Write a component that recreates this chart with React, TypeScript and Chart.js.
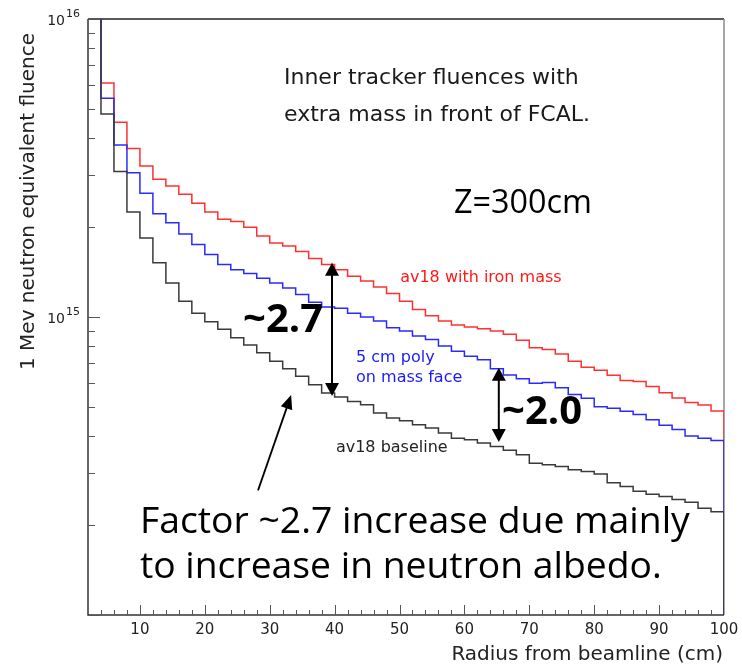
import React, { useEffect, useRef } from "react";
import { Chart, registerables } from "chart.js";

Chart.register(...registerables);

// ---- data ----
const binLeftEdges = [2, 4, 6, 8, 10, 12, 14, 16, 18, 20, 22, 24, 26, 28, 30, 32, 34, 36, 38, 40, 42, 44, 46, 48, 50, 52, 54, 56, 58, 60, 62, 64, 66, 68, 70, 72, 74, 76, 78, 80, 82, 84, 86, 88, 90, 92, 94, 96, 98];
const histEnd = 100;
const emptyBeyond = 1e13;

const ironMass = [1.2e16, 6.10e15, 4.50e15, 3.68e15, 3.21e15, 2.90e15, 2.75e15, 2.58e15, 2.41e15, 2.25e15, 2.13e15, 2.09e15, 2.00e15, 1.87e15, 1.77e15, 1.73e15, 1.66e15, 1.57e15, 1.50e15, 1.44e15, 1.37e15, 1.32e15, 1.26e15, 1.20e15, 1.13e15, 1.06e15, 1.01e15, 9.69e14, 9.40e14, 9.25e14, 9.13e14, 8.97e14, 8.75e14, 8.35e14, 7.88e14, 7.78e14, 7.51e14, 7.11e14, 6.78e14, 6.63e14, 6.38e14, 6.12e14, 6.07e14, 5.85e14, 5.57e14, 5.35e14, 5.17e14, 5.07e14, 4.84e14];
const polyFace = [1.2e16, 5.42e15, 3.78e15, 3.05e15, 2.60e15, 2.22e15, 2.07e15, 1.90e15, 1.75e15, 1.62e15, 1.50e15, 1.44e15, 1.40e15, 1.35e15, 1.30e15, 1.25e15, 1.19e15, 1.12e15, 1.08e15, 1.07e15, 1.03e15, 1.00e15, 9.69e14, 9.20e14, 8.97e14, 8.63e14, 8.41e14, 7.99e14, 7.68e14, 7.39e14, 7.18e14, 6.71e14, 6.39e14, 6.21e14, 5.99e14, 6.03e14, 5.79e14, 5.49e14, 5.34e14, 5.00e14, 4.94e14, 4.83e14, 4.71e14, 4.52e14, 4.33e14, 4.19e14, 3.99e14, 3.92e14, 3.85e14];
const baseline = [1.2e16, 4.80e15, 3.08e15, 2.25e15, 1.84e15, 1.52e15, 1.30e15, 1.13e15, 1.03e15, 9.64e14, 9.09e14, 8.52e14, 8.05e14, 7.58e14, 7.11e14, 6.70e14, 6.33e14, 5.93e14, 5.56e14, 5.39e14, 5.21e14, 5.08e14, 4.76e14, 4.58e14, 4.49e14, 4.35e14, 4.24e14, 4.08e14, 3.92e14, 3.87e14, 3.78e14, 3.68e14, 3.57e14, 3.45e14, 3.23e14, 3.19e14, 3.15e14, 3.07e14, 3.03e14, 2.97e14, 2.78e14, 2.70e14, 2.60e14, 2.54e14, 2.50e14, 2.44e14, 2.39e14, 2.28e14, 2.22e14];

const xMin = 2;
const xMax = 100;
const yMin = 1e14;
const yMax = 1e16;
const xTickLabels = [10, 20, 30, 40, 50, 60, 70, 80, 90, 100];
const xMinorStep = 2;
const yDecades = [1e14, 1e15, 1e16];
const yLabelExponents = [15, 16];

const xTitle = "Radius from beamline (cm)";
const yTitle = "1 Mev neutron equivalent fluence";

// annotation texts (positions in data coordinates)
const noteTexts = ["Inner tracker fluences with", "extra mass in front of FCAL.", "Z=300cm", "av18 with iron mass", "5 cm poly", "on mass face", "av18 baseline", "~2.7", "~2.0", "Factor ~2.7 increase due mainly", "to increase in neutron albedo."];
const noteX = [32.2, 32.2, 58.4, 50.1, 43.3, 43.3, 40.2, 25.9, 65.8, 10.0, 10.0];
const noteY = [6.34e15, 4.76e15, 2.39e15, 1.35e15, 7.28e14, 6.24e14, 3.63e14, 9.70e14, 4.76e14, 2.04e14, 1.44e14];

// ratio arrows
const arrowX = [39.6, 65.3];
const arrowTop = [1.52e15, 6.75e14];
const arrowBottom = [5.43e14, 3.81e14];
const pointerFrom = [28.2, 2.62e14];
const pointerTo = [33.3, 5.47e14];

// ---- styles ----
const SANS = '"DejaVu Sans", sans-serif';
const HAND = '"Open Sans", sans-serif';
const noteStyle = [
  { w: 349, color: "#1a1a1a", fam: SANS, weight: "normal", max: 22 },
  { w: 366, color: "#1a1a1a", fam: SANS, weight: "normal", max: 22 },
  { w: 138, color: "#000", fam: HAND, weight: "normal", max: 34 },
  { w: 177, color: "#ff1a1a", fam: SANS, weight: "normal", max: 16 },
  { w: 85, color: "#1a1aff", fam: SANS, weight: "normal", max: 16 },
  { w: 117, color: "#1a1aff", fam: SANS, weight: "normal", max: 16 },
  { w: 118, color: "#222", fam: SANS, weight: "normal", max: 16 },
  { w: 80, color: "#000", fam: HAND, weight: "bold", max: 40 },
  { w: 83, color: "#000", fam: HAND, weight: "bold", max: 40 },
  { w: 550, color: "#000", fam: HAND, weight: "normal", max: 38 },
  { w: 522, color: "#000", fam: HAND, weight: "normal", max: 38 },
];

function fitSize(ctx: CanvasRenderingContext2D, text: string, weight: string, fam: string, width: number, max: number) {
  ctx.font = `${weight} 100px ${fam}`;
  const w = ctx.measureText(text).width;
  return Math.min(max, (100 * width) / w);
}

function arrowHead(ctx: CanvasRenderingContext2D, tipX: number, tipY: number, fromX: number, fromY: number, len: number, half: number) {
  const ang = Math.atan2(tipY - fromY, tipX - fromX);
  const bx = tipX - len * Math.cos(ang);
  const by = tipY - len * Math.sin(ang);
  const nx = -Math.sin(ang);
  const ny = Math.cos(ang);
  ctx.beginPath();
  ctx.moveTo(tipX, tipY);
  ctx.lineTo(bx + half * nx, by + half * ny);
  ctx.lineTo(bx - half * nx, by - half * ny);
  ctx.closePath();
  ctx.fill();
}

const framePlugin = {
  id: "frame",
  beforeDatasetsDraw(chart: any) {
    const { ctx, chartArea: a } = chart;
    ctx.save();
    ctx.lineWidth = 1.5;
    ctx.strokeStyle = "#222";
    ctx.beginPath();
    ctx.moveTo(a.left, a.top);
    ctx.lineTo(a.right, a.top);
    ctx.stroke();
    ctx.strokeStyle = "#8a8a8a";
    ctx.beginPath();
    ctx.moveTo(a.right, a.top);
    ctx.lineTo(a.right, a.bottom);
    ctx.stroke();
    ctx.restore();
  },
  afterDraw(chart: any) {
    const { ctx, chartArea: a, scales } = chart;
    const X = (v: number) => scales.x.getPixelForValue(v);
    const Y = (v: number) => scales.y.getPixelForValue(v);
    ctx.save();
    // axes
    ctx.lineWidth = 1.5;
    ctx.strokeStyle = "#333";
    ctx.beginPath();
    ctx.moveTo(a.left, a.top);
    ctx.lineTo(a.left, a.bottom);
    ctx.lineTo(a.right, a.bottom);
    ctx.stroke();
    // y ticks
    ctx.lineWidth = 1;
    ctx.strokeStyle = "#555";
    for (let d = 0; d < yDecades.length; d++) {
      const dec = yDecades[d];
      const py = Math.round(Y(dec)) + 0.5;
      ctx.beginPath();
      ctx.moveTo(a.left, py);
      ctx.lineTo(a.left + 12, py);
      ctx.stroke();
      if (d < yDecades.length - 1) {
        for (let k = 2; k <= 9; k++) {
          const pm = Math.round(Y(dec * k)) + 0.5;
          ctx.beginPath();
          ctx.moveTo(a.left, pm);
          ctx.lineTo(a.left + 7, pm);
          ctx.stroke();
        }
      }
    }
    // x ticks
    for (let v = xMin + xMinorStep; v < xMax; v += xMinorStep) {
      const px = Math.round(X(v)) + 0.5;
      const major = xTickLabels.indexOf(v) >= 0;
      ctx.beginPath();
      ctx.moveTo(px, a.bottom);
      ctx.lineTo(px, a.bottom - (major ? 10 : 5));
      ctx.stroke();
    }
    // x tick labels
    ctx.fillStyle = "#222";
    ctx.font = `15px ${SANS}`;
    ctx.textAlign = "center";
    ctx.textBaseline = "middle";
    for (const v of xTickLabels) {
      ctx.fillText(String(v), X(v), a.bottom + 15);
    }
    // y tick labels 10^n
    for (const e of yLabelExponents) {
      const py = Y(Math.pow(10, e));
      ctx.font = `14px ${SANS}`;
      ctx.textAlign = "right";
      ctx.textBaseline = "middle";
      ctx.fillText("10", a.left - 23, py + 2);
      ctx.font = `11px ${SANS}`;
      ctx.textAlign = "left";
      ctx.fillText(String(e), a.left - 22, py - 5);
    }
    // axis titles
    ctx.fillStyle = "#222";
    let fs = fitSize(ctx, xTitle, "normal", SANS, 320, 20);
    ctx.font = `${fs}px ${SANS}`;
    ctx.textAlign = "right";
    ctx.textBaseline = "middle";
    ctx.fillText(xTitle, a.right - 1, a.bottom + 40);
    fs = fitSize(ctx, yTitle, "normal", SANS, 350, 20);
    ctx.save();
    ctx.translate(29, Y(yMin) - 245);
    ctx.rotate(-Math.PI / 2);
    ctx.font = `${fs}px ${SANS}`;
    ctx.textAlign = "left";
    ctx.textBaseline = "middle";
    ctx.fillText(yTitle, 0, 0);
    ctx.restore();
    // notes
    for (let i = 0; i < noteTexts.length; i++) {
      const s = noteStyle[i];
      const size = fitSize(ctx, noteTexts[i], s.weight, s.fam, s.w, s.max);
      ctx.font = `${s.weight} ${size}px ${s.fam}`;
      ctx.fillStyle = s.color;
      ctx.textAlign = "left";
      ctx.textBaseline = "middle";
      ctx.fillText(noteTexts[i], X(noteX[i]), Y(noteY[i]));
    }
    // double arrows
    ctx.strokeStyle = "#000";
    ctx.fillStyle = "#000";
    ctx.lineWidth = 2;
    for (let i = 0; i < arrowX.length; i++) {
      const px = X(arrowX[i]);
      const t = Y(arrowTop[i]);
      const b = Y(arrowBottom[i]);
      ctx.beginPath();
      ctx.moveTo(px, t + 8);
      ctx.lineTo(px, b - 8);
      ctx.stroke();
      arrowHead(ctx, px, t, px, b, 13, 7);
      arrowHead(ctx, px, b, px, t, 13, 7);
    }
    // pointer arrow
    const fx = X(pointerFrom[0]);
    const fy = Y(pointerFrom[1]);
    const tx = X(pointerTo[0]);
    const ty = Y(pointerTo[1]);
    ctx.lineWidth = 1.8;
    ctx.beginPath();
    ctx.moveTo(fx, fy);
    ctx.lineTo(tx - (tx - fx) * 0.1, ty - (ty - fy) * 0.1);
    ctx.stroke();
    arrowHead(ctx, tx, ty, fx, fy, 14, 6);
    ctx.restore();
  },
};

export default function App() {
  const ref = useRef<HTMLCanvasElement>(null);
  useEffect(() => {
    const canvas = ref.current;
    if (!canvas) return;
    const mk = (vals: number[]) => [
      ...binLeftEdges.map((x, i) => ({ x, y: vals[i] })),
      { x: histEnd, y: vals[vals.length - 1] },
      { x: histEnd, y: emptyBeyond },
    ];
    const common = { pointRadius: 0, borderWidth: 1.5, fill: false, stepped: "before" as const, tension: 0 };
    const chart = new Chart(canvas, {
      type: "line",
      data: {
        datasets: [
          { label: "av18 baseline", data: mk(baseline), borderColor: "#3a3a3a", ...common },
          { label: "5 cm poly on mass face", data: mk(polyFace), borderColor: "#2a2aff", ...common },
          { label: "av18 with iron mass", data: mk(ironMass), borderColor: "#ff3030", ...common },
        ],
      },
      options: {
        animation: false,
        responsive: false,
        devicePixelRatio: 1,
        layout: { padding: { left: 88, top: 19, right: 18, bottom: 57 } },
        plugins: { legend: { display: false }, title: { display: false }, tooltip: { enabled: false } },
        scales: {
          x: { type: "linear", min: xMin, max: xMax, display: false },
          y: { type: "logarithmic", min: yMin, max: yMax, display: false },
        },
      },
      plugins: [framePlugin],
    } as any);
    return () => chart.destroy();
  }, []);
  return (
    <div style={{ position: "fixed", left: 0, top: 0, width: 742, height: 672, background: "#fff" }}>
      <canvas ref={ref} width={742} height={672} style={{ display: "block" }} />
    </div>
  );
}
